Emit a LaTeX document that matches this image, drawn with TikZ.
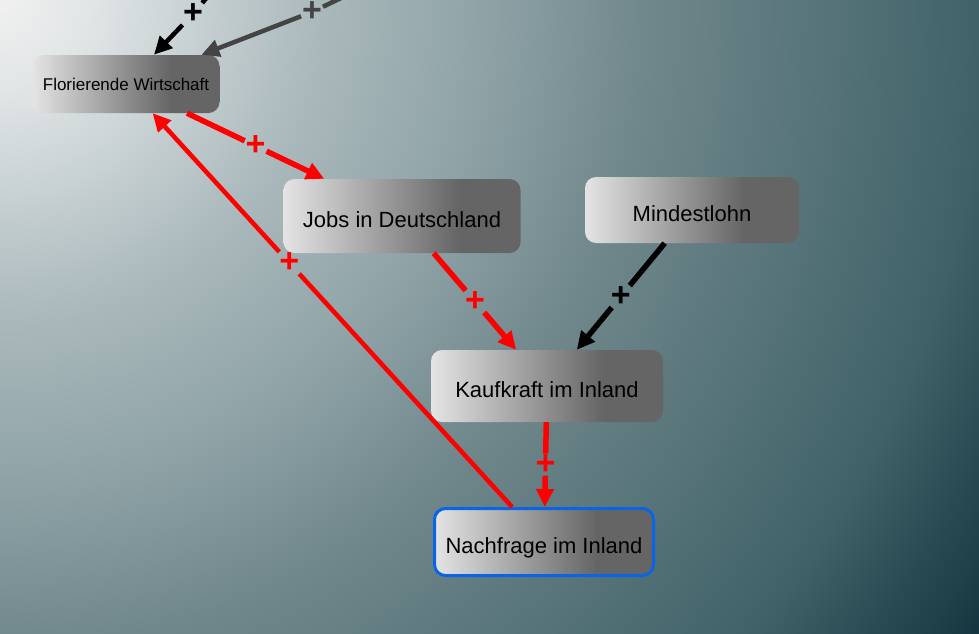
\documentclass[tikz,border=0pt]{standalone}
\usepackage{fontspec}
\setmainfont{Liberation Sans}
\usetikzlibrary{arrows.meta, positioning}

\definecolor{bg0}{HTML}{F0F0F0}
\definecolor{bg1}{HTML}{E2E6E7}
\definecolor{bg2}{HTML}{A8B7BA}
\definecolor{bg3}{HTML}{8EA2A6}
\definecolor{bg4}{HTML}{72898D}
\definecolor{bg5}{HTML}{3F6268}
\definecolor{bg6}{HTML}{12353F}
\definecolor{boxlight}{HTML}{E4E4E4}
\definecolor{boxdark}{HTML}{656565}
\definecolor{selblue}{HTML}{0A64E6}
\definecolor{darkline}{HTML}{444444}

\pgfdeclareradialshading{backdrop}{\pgfpoint{0bp}{0bp}}{color(0bp)=(bg0); color(1.8bp)=(bg1); color(7bp)=(bg2); color(10.5bp)=(bg3); color(13.5bp)=(bg4); color(21bp)=(bg5); color(25bp)=(bg6); color(50bp)=(bg6)}
\pgfdeclarehorizontalshading{boxfill}{100bp}{color(0bp)=(boxlight); color(25bp)=(boxlight); color(62bp)=(boxdark); color(100bp)=(boxdark)}

\begin{document}
\begin{tikzpicture}[
    x=1pt, y=-1pt,
    every node/.style={font=\fontsize{22}{26}\selectfont},
    box/.style={rectangle, shade, shading=boxfill, rounded corners=11pt, align=center, inner sep=0pt},
    big/.style={box, text height=24pt, text depth=2pt},
    sign/.style={font=\fontsize{34}{34}\selectfont\bfseries, inner sep=1pt, outer sep=0pt},
    link/.style={line width=5.5pt},
    tip/.style={-{Triangle[length=18pt,width=17pt]}}
]
\useasboundingbox (0,0) rectangle (979,633);
\begin{scope}
\clip (0,0) rectangle (979,633);
\shade[shading=backdrop] (0,0) circle[radius=1170pt];
\end{scope}

\node[box, minimum width=187pt, minimum height=58pt, font=\fontsize{17}{20}\selectfont] (fw) at (126,84) {Florierende Wirtschaft};
\node[big, minimum width=237pt, minimum height=74pt] (jobs) at (402,216) {Jobs in Deutschland};
\node[big, minimum width=214pt, minimum height=66pt] (lohn) at (692,210) {Mindestlohn};
\node[big, minimum width=232pt, minimum height=72pt] (kauf) at (547,386) {Kaufkraft im Inland};
\node[big, draw=selblue, line width=3pt, minimum width=219pt, minimum height=67pt] (nach) at (544,542) {Nachfrage im Inland};

\coordinate (top1) at (230,-30);
\coordinate (top2) at (395,-28);
\node[sign] (s0) at (193,14) {+};
\node[sign, text=darkline] (s00) at (312,12) {+};
\draw[link, line width=4.5pt] (top1) -- (s0);
\draw[link, line width=4.5pt, tip] (s0) -- (fw);
\draw[link, line width=4.5pt, darkline] (top2) -- (s00);
\draw[link, line width=4.5pt, darkline, tip] (s00) -- (fw);

\path (fw) -- (jobs) node[sign, pos=0.5, text=red] (s1) {+};
\draw[link, red] (fw) -- (s1);
\draw[link, red, tip] (s1) -- (jobs);

\path (jobs) -- (kauf) node[sign, pos=0.5, text=red] (s2) {+};
\draw[link, red] (jobs) -- (s2);
\draw[link, red, tip] (s2) -- (kauf);

\path (lohn) -- (kauf) node[sign, pos=0.5] (s3) {+};
\draw[link] (lohn) -- (s3);
\draw[link, tip] (s3) -- (kauf);

\path (kauf) -- (nach) node[sign, pos=0.5, text=red] (s4) {+};
\draw[link, red] (kauf) -- (s4);
\draw[link, red, tip] (s4) -- (nach);

\path (nach) -- (fw) node[sign, pos=0.62, text=red] (s5) {+};
\draw[link, line width=4.5pt, red] (nach) -- (s5);
\draw[link, line width=4.5pt, red, tip] (s5) -- (fw);
\end{tikzpicture}
\end{document}
